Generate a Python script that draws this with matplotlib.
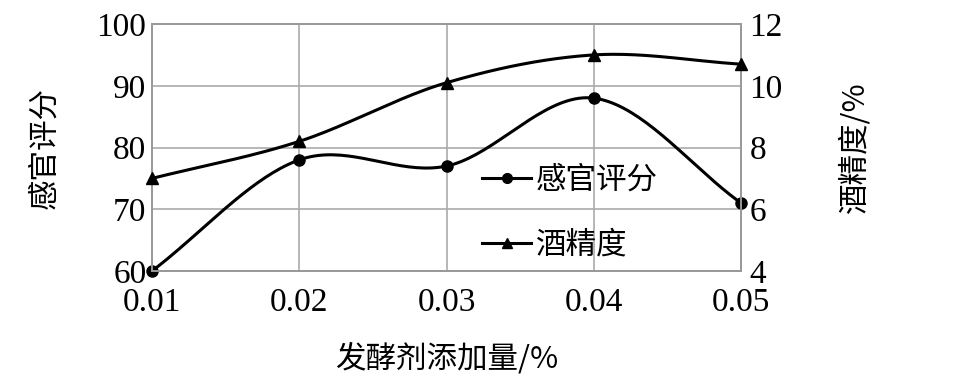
import numpy as np
import matplotlib
matplotlib.use("Agg")
import matplotlib.pyplot as plt
from matplotlib.lines import Line2D

x_vals = [0.01, 0.02, 0.03, 0.04, 0.05]
x_ticklabels = ["0.01", "0.02", "0.03", "0.04", "0.05"]
sensory = [60, 78, 77, 88, 71]
alcohol = [7.0, 8.2, 10.1, 11.0, 10.7]

cjk = ["Noto Sans CJK SC", "DejaVu Sans"]
serif = ["Liberation Serif", "DejaVu Serif"]


def catmull(xs, ys, n=40):
    xs = np.asarray(xs, float); ys = np.asarray(ys, float)
    px = np.concatenate([[2*xs[0]-xs[1]], xs, [2*xs[-1]-xs[-2]]])
    py = np.concatenate([[2*ys[0]-ys[1]], ys, [2*ys[-1]-ys[-2]]])
    ox, oy = [], []
    for i in range(1, len(px)-2):
        t = np.linspace(0, 1, n)
        for arr, out in ((px, ox), (py, oy)):
            p0, p1, p2, p3 = arr[i-1], arr[i], arr[i+1], arr[i+2]
            out.extend(0.5*((2*p1) + (-p0+p2)*t + (2*p0-5*p1+4*p2-p3)*t**2 + (-p0+3*p1-3*p2+p3)*t**3))
    return np.array(ox), np.array(oy)


fig = plt.figure(figsize=(9.65, 3.88), dpi=100)
ax = fig.add_axes([0.1575, 0.3015, 0.6105, 0.6365])
ax2 = ax.twinx()

sx, sy = catmull(x_vals, sensory)
ax.plot(sx, sy, color="black", lw=2.2, zorder=3, clip_on=False)
ax.plot(x_vals, sensory, "o", color="black", ms=8, zorder=4, clip_on=False)

axx, ayy = catmull(x_vals, alcohol)
ax2.plot(axx, ayy, color="black", lw=2.2, zorder=3, clip_on=False)
ax2.plot(x_vals, alcohol, "^", color="black", ms=8, zorder=4, clip_on=False)

ax.set_xlim(0.01, 0.05)
ax.set_ylim(60, 100)
ax2.set_ylim(4, 12)
ax.set_xticks(x_vals)
ax.set_xticklabels(x_ticklabels)
ax.set_yticks([60, 70, 80, 90, 100])
ax2.set_yticks([4, 6, 8, 10, 12])
ax.grid(True, color="#aaaaaa", lw=1.2)
ax.set_axisbelow(True)

for a in (ax, ax2):
    for s in a.spines.values():
        s.set_color("#999999")
        s.set_linewidth(1.4)
    a.tick_params(length=0, labelsize=24, pad=4)
    for lab in a.get_xticklabels() + a.get_yticklabels():
        lab.set_fontfamily(serif)
ax.tick_params(axis="x", pad=12)
ax.tick_params(axis="y", pad=4)
ax2.tick_params(axis="y", pad=6)

ax.set_xlabel("发酵剂添加量/%", fontsize=22, family=cjk, labelpad=18)
ax.set_ylabel("感官评分", fontsize=22, family=cjk, labelpad=26)
ax2.set_ylabel("酒精度/%", fontsize=22, family=cjk, labelpad=40)

handles = [Line2D([], [], color="black", lw=2.2, marker="o", ms=7),
           Line2D([], [], color="black", lw=2.2, marker="^", ms=7)]
leg = ax.legend(handles, ["感官评分", "酒精度"], loc="upper left",
                bbox_to_anchor=(0.54, 0.48), frameon=False,
                prop={"family": cjk, "size": 22}, handlelength=1.6,
                handletextpad=0.15, labelspacing=1.1, borderaxespad=0)

fig.savefig("out.png", dpi=100)
